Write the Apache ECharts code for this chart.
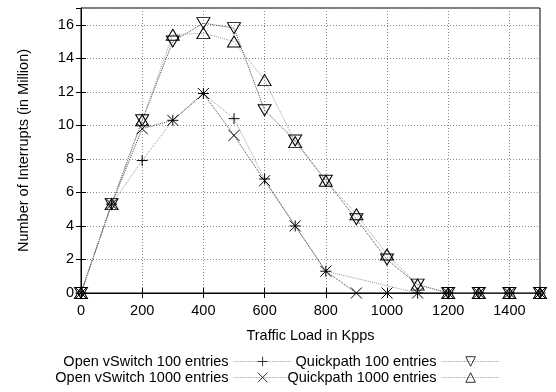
<!DOCTYPE html>
<html><head><meta charset="utf-8">
<script src="https://cdn.jsdelivr.net/npm/echarts@6/dist/echarts.min.js"></script>
<style>html,body{margin:0;padding:0;background:#fff}#c{width:556px;height:392px}</style>
</head><body><div id="c"></div>
<script>
const xs = [0,100,200,300,400,500,600,700,800,900,1000,1100,1200,1300,1400,1500];
const ovs100 = [0,5.3,7.9,10.3,11.9,10.4,6.8,4.0,1.3,null,null,0,0,0,0,0];
const ovs1000 = [0,5.3,9.8,10.3,11.9,9.4,6.7,4.0,1.3,0,0,0,0,0,0,0];
const qp100 = [0,5.3,10.3,15.0,16.1,15.8,10.9,9.1,6.7,4.4,2.0,0.5,0,0,0,0];
const qp1000 = [0,5.3,10.3,15.4,15.5,15.0,12.7,9.0,6.7,4.7,2.3,0.5,0,0,0,0];
const names = ['Open vSwitch 100 entries','Open vSwitch 1000 entries','Quickpath 100 entries','Quickpath 1000 entries'];

const FONT = 'Liberation Sans, Arial, sans-serif';
const FS = 14.5;
const plusPath = 'path://M0,6L12,6M6,0L6,12';
const crossPath = 'path://M0,0L12,12M12,0L0,12';
const pair = arr => xs.map((x,i)=>[x,arr[i]]);

function ser(name, data, symbol, size, rot, lineColor){
  return {
    name, type:'line', data: pair(data), connectNulls:true,
    symbol, symbolSize:size, symbolRotate:rot, showAllSymbol:true,
    lineStyle:{color:lineColor,width:1,type:'dotted'},
    itemStyle:{color:'none',borderColor:'#000',borderWidth:1},
    emphasis:{disabled:true}, animation:false, z:3
  };
}

const chart = echarts.init(document.getElementById('c'));
const legendBase = {orient:'horizontal', itemWidth:58, itemHeight:12, itemGap:0, align:'right',
  textStyle:{fontFamily:FONT,fontSize:FS,color:'#000'}, selectedMode:false, padding:0,
  itemStyle:{borderWidth:0.8}, lineStyle:{width:0.8,color:'#888'}};
chart.setOption({
  animation:false,
  grid:{left:81,right:16,top:8,bottom:99,show:true,borderColor:'#000',borderWidth:1,backgroundColor:'transparent'},
  xAxis:[{
    type:'value', min:0, max:1500, interval:200,
    name:'Traffic Load in Kpps', nameLocation:'middle', nameGap:35,
    nameTextStyle:{fontFamily:FONT,fontSize:FS,color:'#000'},
    axisLine:{show:true,lineStyle:{color:'#000'}},
    axisTick:{show:true,inside:true,length:5,lineStyle:{color:'#000'}},
    axisLabel:{fontFamily:FONT,fontSize:FS,color:'#000',margin:10,showMaxLabel:false,formatter:v=>String(v)},
    splitLine:{show:true,lineStyle:{color:'#888',type:[1,2],width:1}}
  },{
    type:'value', position:'top', min:0, max:1500, interval:200,
    axisLine:{show:false}, axisLabel:{show:false}, splitLine:{show:false},
    axisTick:{show:true,inside:true,length:5,lineStyle:{color:'#000'}}
  }],
  yAxis:[{
    type:'value', min:0, max:17, interval:2,
    name:'Number of Interrupts (in Million)', nameLocation:'middle', nameGap:50,
    nameTextStyle:{fontFamily:FONT,fontSize:FS,color:'#000'},
    axisLine:{show:true,lineStyle:{color:'#000'}},
    axisTick:{show:true,inside:true,length:5,lineStyle:{color:'#000'}},
    axisLabel:{fontFamily:FONT,fontSize:FS,color:'#000',margin:7,showMaxLabel:false,formatter:v=>String(v)},
    splitLine:{show:true,lineStyle:{color:'#888',type:[1,2],width:1}}
  },{
    type:'value', position:'right', min:0, max:17, interval:2,
    axisLine:{show:false}, axisLabel:{show:false}, splitLine:{show:false},
    axisTick:{show:true,inside:true,length:5,lineStyle:{color:'#000'}}
  }],
  legend:[
    Object.assign({},legendBase,{data:[names[0]], right:264, top:354}),
    Object.assign({},legendBase,{data:[names[1]], right:264, top:370}),
    Object.assign({},legendBase,{data:[names[2]], right:56, top:354}),
    Object.assign({},legendBase,{data:[names[3]], right:56, top:370})
  ],
  series:[
    ser(names[0], ovs100, plusPath, 11, 0, '#999'),
    ser(names[1], ovs1000, crossPath, 11, 0, '#444'),
    ser(names[2], qp100, 'triangle', [13,11], 180, '#444'),
    ser(names[3], qp1000, 'triangle', [13,11], 0, '#999')
  ]
});
</script></body></html>
